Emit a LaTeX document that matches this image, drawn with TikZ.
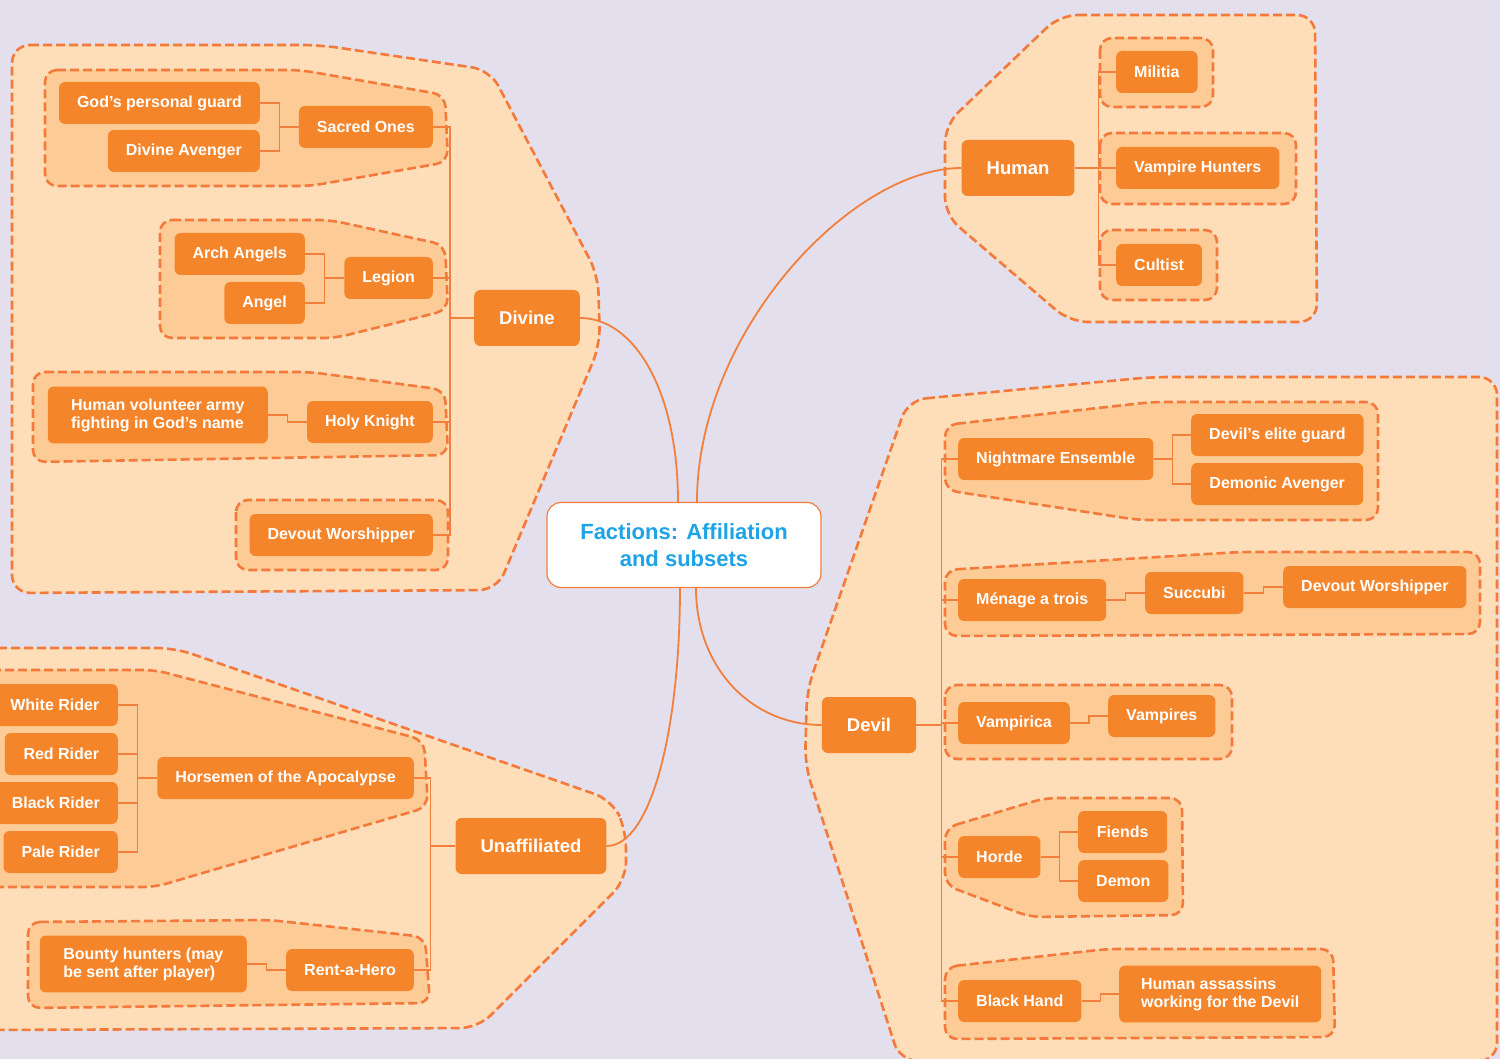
\documentclass[tikz,border=0pt]{standalone}
\usepackage{fontspec}
\setmainfont{Liberation Sans}
\usetikzlibrary{calc}

\definecolor{bgcol}{RGB}{227,223,236}
\definecolor{zonefill}{RGB}{254,221,185}
\definecolor{groupfill}{RGB}{253,204,150}
\definecolor{boxfill}{RGB}{245,133,42}
\definecolor{dashcol}{RGB}{244,122,60}
\definecolor{linkcol}{RGB}{242,128,60}
\definecolor{titleblue}{RGB}{30,163,230}

\begin{document}
\begin{tikzpicture}[x=1pt, y=-1pt,
    zone/.style={fill=zonefill, draw=dashcol, line width=2.6pt, dash pattern=on 9pt off 4pt, rounded corners=18pt},
    group/.style={fill=groupfill, draw=dashcol, line width=2.6pt, dash pattern=on 9pt off 4pt, rounded corners=12pt},
    item/.style={rectangle, rounded corners=6pt, fill=boxfill, text=white, font=\fontsize{16}{18}\selectfont\bfseries, minimum height=42pt, inner xsep=18pt, inner ysep=12pt},
    main/.style={item, font=\fontsize{18.5}{22}\selectfont\bfseries, minimum height=56pt, inner xsep=25pt},
    link/.style={draw=linkcol, line width=1.3pt},
    branch/.style={draw=linkcol, line width=1.8pt}
]
    \useasboundingbox (0,0) rectangle (1500,1059);
    \fill[bgcol] (0,0) rectangle (1500,1059);

    % big zones around each branch
    \draw[zone] (12,45) -- (320,45) -- (490,70) -- (598,275) -- (600,345) -- (497,590) -- (12,593) -- cycle;
    \draw[zone] (1060,15) -- (1315,15) -- (1317,322) -- (1070,322) -- (945,215) -- (945,125) -- cycle;
    \draw[zone] (908,400) -- (1152,377) -- (1497,377) -- (1497,1061) -- (900,1061) -- (805,765) -- (807,690) -- cycle;
    \draw[zone] (-20,648) -- (175,648) -- (612,800) -- (626,830) -- (626,880) -- (478,1028) -- (-20,1030) -- cycle;

    % sub groups
    \draw[group] (45,70) -- (300,70) -- (445,95) -- (448,162) -- (310,186) -- (45,186) -- cycle;
    \draw[group] (160,220) -- (330,220) -- (445,245) -- (448,310) -- (335,338) -- (160,338) -- cycle;
    \draw[group] (33,372) -- (310,372) -- (445,390) -- (448,455) -- (33,462) -- cycle;
    \draw[group] (236,500) rectangle (448,570);

    \draw[group] (1100,38) rectangle (1213,107);
    \draw[group] (1100,133) rectangle (1296,204);
    \draw[group] (1100,230) rectangle (1217,300);

    \draw[group] (945,425) -- (1152,402) -- (1378,402) -- (1378,520) -- (1138,520) -- (945,490) -- cycle;
    \draw[group] (945,570) -- (1240,552) -- (1480,552) -- (1480,634) -- (945,636) -- cycle;
    \draw[group] (945,685) rectangle (1232,759);
    \draw[group] (945,828) -- (1045,798) -- (1182,798) -- (1183,915) -- (1030,917) -- (945,885) -- cycle;
    \draw[group] (945,967) -- (1107,949) -- (1333,949) -- (1335,1037) -- (945,1039) -- cycle;

    \draw[group] (-20,670) -- (155,670) -- (424,740) -- (428,807) -- (155,887) -- (-20,887) -- cycle;
    \draw[group] (28,922) -- (270,920) -- (425,937) -- (430,1003) -- (28,1008) -- cycle;

    % centre
    \node[draw=linkcol, line width=1.2pt, fill=white, rounded corners=14pt, minimum width=274pt, minimum height=85pt,
          align=center, text=titleblue, font=\fontsize{22}{27}\selectfont\bfseries] (cen) at (684,545) {Factions: Affiliation\\and subsets};

    % Divine
    \node[main] (div) at (527,318) {Divine};
    \node[item, anchor=east] (gpg) at (260,103) {God's personal guard};
    \node[item, anchor=east] (dva) at (260,151) {Divine Avenger};
    \node[item, anchor=east] (so) at (433,127) {Sacred Ones};
    \node[item, anchor=east] (arch) at (305,254) {Arch Angels};
    \node[item, anchor=east] (ang) at (305,303) {Angel};
    \node[item, anchor=east] (leg) at (433,278) {Legion};
    \node[item, anchor=east, align=left, minimum width=220pt] (hva) at (268,415) {Human volunteer army\\fighting in God's name};
    \node[item, anchor=east] (hk) at (433,422) {Holy Knight};
    \node[item, anchor=east] (dw) at (433,535) {Devout Worshipper};

    % Human
    \node[main] (hum) at (1018,168) {Human};
    \node[item, anchor=west] (mil) at (1116,72) {Militia};
    \node[item, anchor=west] (vh) at (1116,168) {Vampire Hunters};
    \node[item, anchor=west] (cul) at (1116,265) {Cultist};

    % Devil
    \node[main] (dev) at (869,725) {Devil};
    \node[item, anchor=west] (ne) at (958,459) {Nightmare Ensemble};
    \node[item, anchor=west, minimum width=172pt] (deg) at (1191,435) {Devil's elite guard};
    \node[item, anchor=west, minimum width=172pt] (dma) at (1191,484) {Demonic Avenger};
    \node[item, anchor=west] (mat) at (958,600) {Ménage a trois};
    \node[item, anchor=west] (suc) at (1145,593) {Succubi};
    \node[item, anchor=west] (dw2) at (1283,587) {Devout Worshipper};
    \node[item, anchor=west] (vca) at (958,723) {Vampirica};
    \node[item, anchor=west] (vps) at (1108,716) {Vampires};
    \node[item, anchor=west] (hor) at (958,857) {Horde};
    \node[item, anchor=west, minimum width=89pt] (fie) at (1078,832) {Fiends};
    \node[item, anchor=west, minimum width=89pt] (dem) at (1078,881) {Demon};
    \node[item, anchor=west] (bh) at (958,1001) {Black Hand};
    \node[item, anchor=west, align=left, minimum width=202pt] (has) at (1119,994) {Human assassins\\working for the Devil};

    % Unaffiliated
    \node[main] (una) at (531,846) {Unaffiliated};
    \node[item, anchor=east, minimum width=126pt] (wr) at (118,705) {White Rider};
    \node[item, anchor=east, minimum width=113pt] (rr) at (118,754) {Red Rider};
    \node[item, anchor=east, minimum width=124pt] (br) at (118,803) {Black Rider};
    \node[item, anchor=east, minimum width=113pt] (pr) at (118,852) {Pale Rider};
    \node[item, anchor=east] (hoa) at (414,778) {Horsemen of the Apocalypse};
    \node[item, anchor=east, align=left, minimum width=207pt] (bhu) at (247,964) {Bounty hunters (may\\be sent after player)};
    \node[item, anchor=east] (rah) at (414,970) {Rent-a-Hero};

    % elbow links inside the groups
    \foreach \a/\b in {gpg/so, dva/so, arch/leg, ang/leg, hva/hk, wr/hoa, rr/hoa, br/hoa, pr/hoa, bhu/rah,
                       ne/deg, ne/dma, mat/suc, suc/dw2, vca/vps, hor/fie, hor/dem, bh/has}
        \draw[link] (\a.east) -| ($(\a.east)!.5!(\b.west)$) |- (\b.west);

    % spines
    \foreach \c in {so, leg, hk, dw}
        \draw[link] (\c.east) -| ([xshift=-24pt]div.west) -- (div.west);
    \foreach \c in {hoa, rah}
        \draw[link] (\c.east) -| ([xshift=-25pt]una.west) -- (una.west);
    \foreach \c in {mil, vh, cul}
        \draw[link] (hum.east) -- ([xshift=24pt]hum.east) |- (\c.west);
    \foreach \c in {ne, mat, vca, hor, bh}
        \draw[link] (dev.east) -- ([xshift=25pt]dev.east) |- (\c.west);

    % main branches
    \draw[branch] (div.east) .. controls +(55,0) and +(0,-110) .. ([xshift=-6pt]cen.north);
    \draw[branch] (hum.west) .. controls +(-110,0) and +(0,-170) .. ([xshift=13pt]cen.north);
    \draw[branch] (dev.west) .. controls +(-70,0) and +(0,80) .. ([xshift=12pt]cen.south);
    \draw[branch] (una.east) .. controls +(45,0) and +(0,140) .. ([xshift=-4pt]cen.south);
\end{tikzpicture}
\end{document}
